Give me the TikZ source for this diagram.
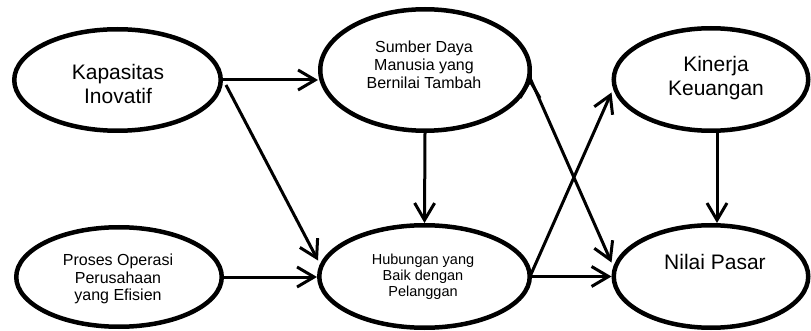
\documentclass[tikz,border=0pt]{standalone}
\usepackage{fontspec}
\setmainfont{Liberation Sans}
\usetikzlibrary{shapes.geometric,arrows.meta,calc}
\begin{document}
\begin{tikzpicture}[x=1pt,y=-1pt,
  oval/.style={ellipse,draw,line width=4.5pt,inner sep=0pt},
  bigtxt/.style={align=center,font=\fontsize{21}{24}\selectfont,inner sep=0pt},
  smalltxt/.style={align=center,font=\fontsize{16}{17.8}\selectfont,inner sep=0pt},
  hubtxt/.style={align=center,font=\fontsize{14.5}{16}\selectfont,inner sep=0pt},
  conn/.style={line width=3pt,-{Straight Barb[length=17pt,width=20pt]}}]
\useasboundingbox (0,0) rectangle (811,331);
% ellipses (outer size minus line width)
\node[oval,minimum width=206.5pt,minimum height=101.5pt] (kap) at (117.5,80) {};
\node[oval,minimum width=209.5pt,minimum height=121.5pt] (sdm) at (425,70) {};
\node[oval,minimum width=194.5pt,minimum height=102.5pt] (kin) at (711,79.5) {};
\node[oval,minimum width=205.5pt,minimum height=99.5pt] (pro) at (119,277) {};
\node[oval,minimum width=210.5pt,minimum height=102.5pt] (hub) at (424.5,276.5) {};
\node[oval,minimum width=194.5pt,minimum height=102.5pt] (nil) at (711,276.5) {};
% texts
\node[bigtxt] (tkap) at (118,84) {Kapasitas\\Inovatif};
\node[smalltxt] (tsdm) at (424,65) {Sumber Daya\\Manusia yang\\Bernilai Tambah};
\node[bigtxt] (tkin) at (716,78.5) {Kinerja\\Keuangan};
\node[smalltxt] (tpro) at (118,279) {Proses Operasi\\Perusahaan\\yang Efisien};
\node[hubtxt] (thub) at (423,276.5) {Hubungan yang\\Baik dengan\\Pelanggan};
\node[bigtxt] (tnil) at (715,262) {Nilai Pasar};
% connectors
\draw[conn] (kap.east) -- (kap.east -| sdm.west);
\draw[conn] ($(kap.east)+(3,5)$) -- ($(hub.west)+(1,-16)$);
\draw[conn] (pro.east) -- (pro.east -| hub.west);
\draw[conn] ($(sdm.east)+(-2,8)$) -- ($(sdm.east)+(-2,8)$ -| kin.west);
\draw[conn] ($(sdm.east)+(-2,8)$) -- ($(nil.west)+(0,-14)$);
\draw[conn] ($(hub.east)+(-2,0)$) -- ($(kin.west)+(0,13)$);
\draw[conn] (hub.east) -- (nil.west);
\draw[conn] (sdm.south) -- (hub.north);
\draw[conn] ($(kin.south)+(6,0)$) -- ($(nil.north)+(6,0)$);
\end{tikzpicture}
\end{document}
